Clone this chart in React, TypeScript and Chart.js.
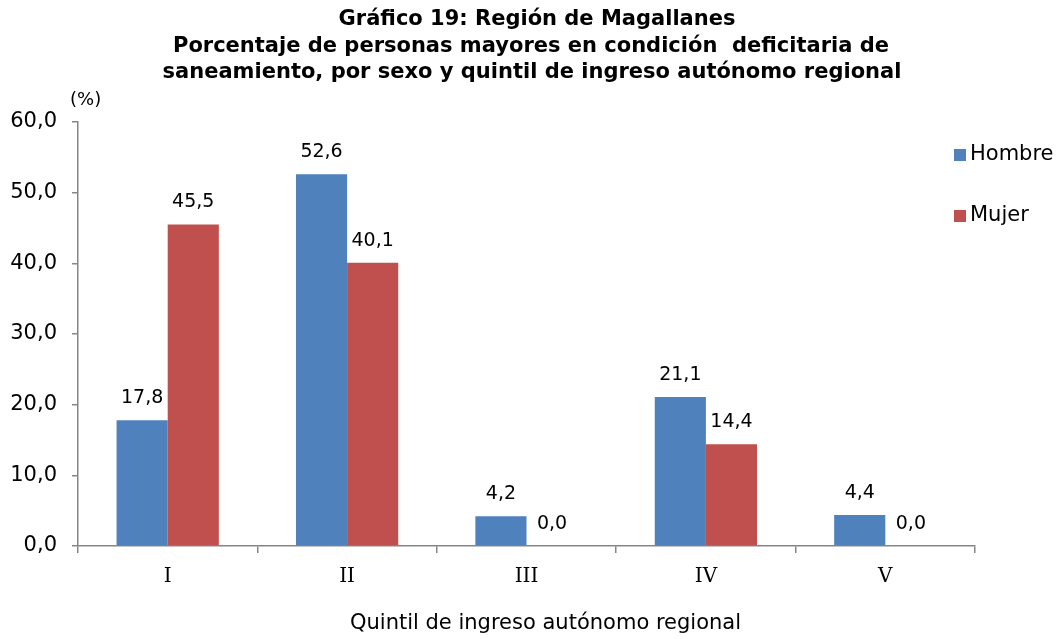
import React, { useEffect, useRef } from "react";
import { Chart, registerables } from "chart.js";

Chart.register(...registerables);

const categories = ["I", "II", "III", "IV", "V"];
const hombre = [17.8, 52.6, 4.2, 21.1, 4.4];
const mujer = [45.5, 40.1, 0.0, 14.4, 0.0];
const seriesNames = ["Hombre", "Mujer"];
const seriesColors = ["#4F81BD", "#C0504D"];
const titleLines = [
  "Gráfico 19: Región de Magallanes",
  "Porcentaje de personas mayores en condición  deficitaria de",
  "saneamiento, por sexo y quintil de ingreso autónomo regional",
];
const xTitle = "Quintil de ingreso autónomo regional";
const yUnit = "(%)";

const fmt = (v: number) => v.toFixed(1).replace(".", ",");
const SANS = "'DejaVu Sans', Verdana, sans-serif";
const AXIS = "#868686";

const overlay = {
  id: "overlay",
  afterDatasetsDraw(chart: any) {
    const ctx = chart.ctx;
    ctx.save();
    ctx.fillStyle = "#000";
    ctx.font = `19px ${SANS}`;
    ctx.textAlign = "center";
    ctx.textBaseline = "middle";
    chart.data.datasets.forEach((ds: any, i: number) => {
      const meta = chart.getDatasetMeta(i);
      meta.data.forEach((el: any, j: number) => {
        ctx.fillText(fmt(ds.data[j]), el.x, el.y - 22);
      });
    });
    ctx.restore();
  },
  afterDraw(chart: any) {
    const ctx = chart.ctx;
    ctx.save();
    ctx.fillStyle = "#000";
    ctx.textAlign = "center";
    ctx.textBaseline = "middle";
    ctx.font = `bold 21px ${SANS}`;
    const xs = [537, 531, 532];
    titleLines.forEach((t, i) => ctx.fillText(t, xs[i], 20 + i * 26.5));
    ctx.font = `21px ${SANS}`;
    ctx.fillText(xTitle, 545.5, 624);
    ctx.font = `18px ${SANS}`;
    ctx.textAlign = "left";
    ctx.fillText(yUnit, 70, 100);
    ctx.font = `21px ${SANS}`;
    seriesNames.forEach((n, i) => {
      const y = 155 + i * 61;
      ctx.fillStyle = seriesColors[i];
      ctx.fillRect(954, y - 6, 12, 12);
      ctx.fillStyle = "#000";
      ctx.fillText(n, 970, y);
    });
    ctx.restore();
  },
};

export default function App() {
  const ref = useRef<HTMLCanvasElement | null>(null);
  useEffect(() => {
    document.body.style.margin = "0";
    const chart = new Chart(ref.current!, {
      type: "bar",
      data: {
        labels: categories,
        datasets: [
          { label: seriesNames[0], data: hombre, backgroundColor: seriesColors[0], borderWidth: 0 },
          { label: seriesNames[1], data: mujer, backgroundColor: seriesColors[1], borderWidth: 0 },
        ],
      },
      options: {
        responsive: false,
        animation: false,
        layout: { padding: { top: 122, right: 85, left: 0, bottom: 0 } },
        datasets: { bar: { categoryPercentage: 0.57, barPercentage: 1 } },
        plugins: { legend: { display: false }, title: { display: false }, tooltip: { enabled: false } },
        scales: {
          x: {
            afterFit: (s: any) => { s.height = 93; },
            grid: { drawOnChartArea: false, color: AXIS, tickLength: 7, lineWidth: 1.5 },
            border: { color: AXIS, width: 1.5 },
            ticks: { color: "#000", font: { family: "'DejaVu Serif', serif", size: 20 }, padding: 12 },
          },
          y: {
            min: 0,
            max: 60,
            afterFit: (s: any) => { s.width = 78; },
            grid: { drawOnChartArea: false, color: AXIS, tickLength: 6, lineWidth: 1.5 },
            border: { color: AXIS, width: 1.5 },
            ticks: {
              stepSize: 10,
              color: "#000",
              font: { family: SANS, size: 21 },
              padding: 15,
              callback: (v: any) => fmt(Number(v)),
            },
          },
        },
      },
      plugins: [overlay],
    });
    return () => chart.destroy();
  }, []);
  return <canvas ref={ref} width={1060} height={639} style={{ display: "block" }} />;
}
